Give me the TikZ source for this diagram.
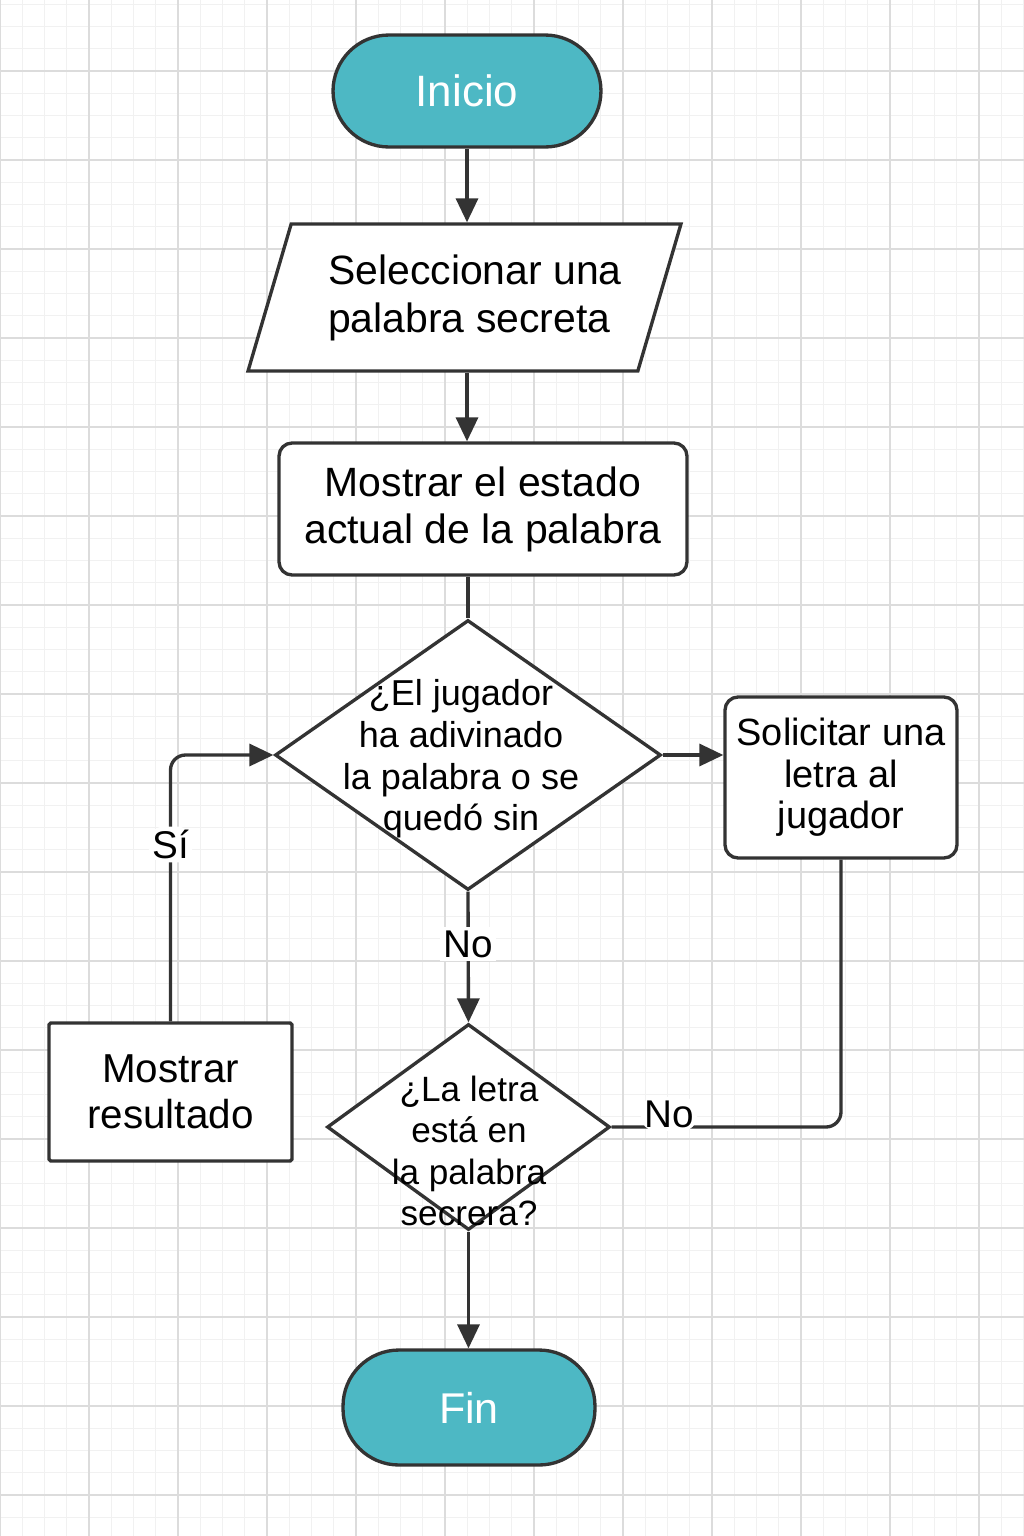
\documentclass[tikz,border=0pt]{standalone}
\usepackage{fontspec}
\setmainfont{Liberation Sans}
\usetikzlibrary{shapes.geometric,arrows.meta}
\definecolor{terminalazul}{HTML}{4DB8C4}
\definecolor{linea}{HTML}{333333}
\definecolor{gridmin}{HTML}{F1F1F1}
\definecolor{gridmaj}{HTML}{DCDCDC}

\begin{document}
\begin{tikzpicture}[x=0.02cm,y=-0.02cm,
  terminal/.style={draw=linea,line width=1.9pt,fill=terminalazul,text=white,
    rounded corners=1.12cm,inner sep=0pt},
  caja/.style={draw=linea,line width=1.9pt,fill=white,rounded corners=0.26cm,
    inner sep=0pt,align=center},
  entrada/.style={draw=linea,line width=1.9pt,fill=white,trapezium,
    trapezium left angle=63.4,trapezium right angle=116.6,trapezium stretches body,
    inner sep=0pt,align=left,font=\fontsize{23.3}{27.3}\selectfont},
  decision/.style={draw=linea,line width=1.9pt,fill=white,diamond,inner sep=0pt},
  texto/.style={align=center,inner sep=0pt},
  flecha/.style={draw=linea,line width=1.9pt,-{Triangle[length=0.48cm,width=0.44cm]}},
  enlace/.style={draw=linea,line width=1.9pt},
  etiqueta/.style={fill=white,inner sep=2pt,font=\fontsize{22}{26}\selectfont}
]
\fill[white] (0,0) rectangle (1024,1536);
\useasboundingbox (0,0) rectangle (1024,1536);

% cuadricula
\foreach \gx in {0,22.25,...,1030} \draw[gridmin,line width=0.6pt] (\gx,0) -- (\gx,1536);
\foreach \gy in {4.25,26.5,...,1540} \draw[gridmin,line width=0.6pt] (0,\gy) -- (1024,\gy);
\foreach \gx in {0,89,...,1030} \draw[gridmaj,line width=0.8pt] (\gx,0) -- (\gx,1536);
\foreach \gy in {71,160,...,1540} \draw[gridmaj,line width=0.8pt] (0,\gy) -- (1024,\gy);

% bloques
\node[terminal,minimum width=5.36cm,minimum height=2.24cm,font=\fontsize{25}{29}\selectfont] (inicio) at (467,91) {Inicio};
\node[entrada,minimum width=8.66cm,minimum height=2.94cm] (selec) at (464.5,297.5) {\hspace*{0.42cm}Seleccionar una\\\hspace*{0.42cm}palabra secreta};
\node[caja,minimum width=8.16cm,minimum height=2.64cm,font=\fontsize{23.3}{26.8}\selectfont] (estado) at (483,509) {Mostrar el estado\\actual de la palabra};
\node[decision,minimum width=7.72cm,minimum height=5.4cm] (preg1) at (468,755) {};
\node[texto,font=\fontsize{20.5}{23.7}\selectfont] (preg1txt) at (461,759) {¿El jugador\\ha adivinado\\la palabra o se\\quedó sin};
\node[caja,minimum width=4.64cm,minimum height=3.22cm,font=\fontsize{21.6}{23.6}\selectfont] (solicitar) at (841,777.5) {Solicitar una\\letra al\\jugador};
\node[decision,minimum width=5.66cm,minimum height=4.12cm] (preg2) at (468.5,1127) {};
\node[texto,font=\fontsize{20}{23.5}\selectfont] (preg2txt) at (469,1151) {¿La letra\\está en\\la palabra\\secrera?};
\node[caja,rounded corners=1pt,minimum width=4.86cm,minimum height=2.76cm,font=\fontsize{23}{26.2}\selectfont] (result) at (170.5,1092) {Mostrar\\resultado};
\node[terminal,minimum width=5.04cm,minimum height=2.3cm,font=\fontsize{24.5}{28}\selectfont] (fin) at (469,1407.5) {Fin};

% conexiones
\draw[flecha] (inicio) -- (selec.north -| inicio);
\draw[flecha] (selec.south -| inicio) -- (estado.north -| inicio);
\draw[enlace] (estado.south -| preg1) -- (preg1.north);
\draw[flecha] (preg1.east) -- (preg1.east -| solicitar.west);
\draw[flecha] (preg1.south) -- node[etiqueta,pos=0.4] {No} (preg2.north);
\draw[flecha] (preg2.south) -- (fin.north -| preg2);
\draw[enlace,rounded corners=0.3cm] (solicitar.south) |- node[etiqueta,pos=0.875,anchor=base] {No} (preg2.east);
\draw[flecha,rounded corners=0.3cm] (result.north) |- node[etiqueta,pos=0.332] {Sí} (preg1.west);

\end{tikzpicture}
\end{document}
